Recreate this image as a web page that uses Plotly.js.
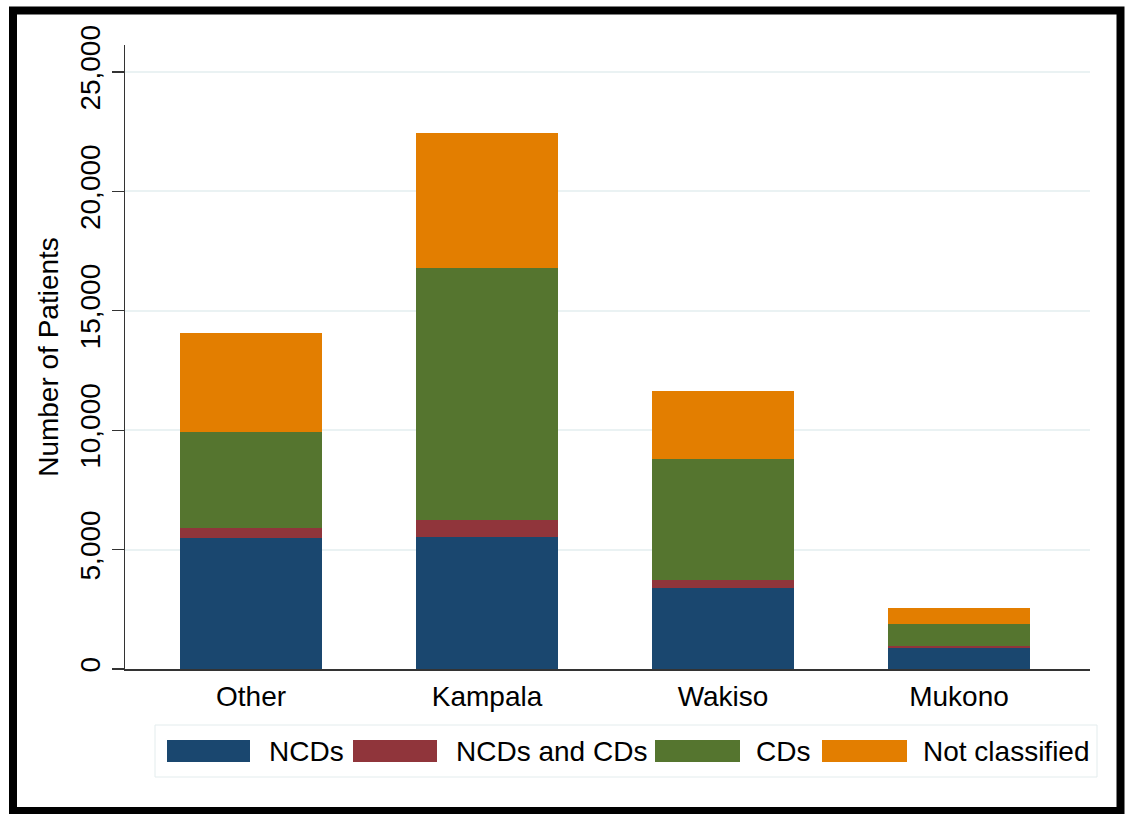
<!DOCTYPE html>
<html>
<head>
<meta charset="utf-8">
<script src="https://cdn.plot.ly/plotly-3.0.1.min.js"></script>
<style>html,body{margin:0;padding:0;background:#fff;}#chart{width:1128px;height:814px;}</style>
</head>
<body>
<div id="chart"></div>
<script>
const categories = ["Other", "Kampala", "Wakiso", "Mukono"];
const seriesNames = ["NCDs", "NCDs and CDs", "CDs", "Not classified"];
const ncds = [5490, 5530, 3390, 870];
const ncdsAndCds = [410, 710, 340, 110];
const cds = [4020, 10550, 5060, 900];
const notClassified = [4150, 5660, 2850, 660];
const yTickVals = [0, 5000, 10000, 15000, 20000, 25000];
const colors = ["#1a476f", "#90353b", "#55752f", "#e37e00"];

const W = 1128, H = 814;
const M = {l: 125, r: 38, t: 45, b: 145};
const PW = W - M.l - M.r, PH = H - M.t - M.b;
const px = x => (x - M.l) / PW;
const py = y => (H - M.b - y) / PH;

const values = [ncds, ncdsAndCds, cds, notClassified];
const traces = values.map((v, i) => ({
  type: "bar",
  name: seriesNames[i],
  x: categories,
  y: v,
  marker: {color: colors[i], line: {width: 0}},
  showlegend: false,
  hoverinfo: "x+y+name"
}));

const font = {family: "Liberation Sans, Arial, sans-serif", color: "#000"};

// legend layout (custom wide swatches like the original)
const legSw = [[167, 250], [353, 437], [655, 740], [822, 907]];
const legTx = [267, 454, 754, 921];
const shapes = [
  {type: "rect", xref: "paper", yref: "paper", x0: px(155), x1: px(1097), y0: py(777), y1: py(725),
   line: {color: "#e3eced", width: 1}, fillcolor: "rgba(0,0,0,0)"},
  {type: "rect", xref: "paper", yref: "paper", x0: px(13), x1: px(1120.5), y0: py(811), y1: py(10.5),
   line: {color: "#000", width: 8}, fillcolor: "rgba(0,0,0,0)", layer: "above"}
];
const annotations = [];
seriesNames.forEach((n, i) => {
  shapes.push({type: "rect", xref: "paper", yref: "paper", x0: px(legSw[i][0]), x1: px(legSw[i][1]),
    y0: py(762), y1: py(740), line: {width: 0}, fillcolor: colors[i]});
  annotations.push({xref: "paper", yref: "paper", x: px(legTx[i]), y: py(751), xanchor: "left", yanchor: "middle",
    text: n, showarrow: false, font: Object.assign({size: 28}, font)});
});

const layout = {
  width: W, height: H,
  margin: M,
  paper_bgcolor: "#fff", plot_bgcolor: "#fff",
  barmode: "stack",
  bargap: 0.4,
  showlegend: false,
  font: font,
  xaxis: {
    type: "category",
    range: [-0.534, 3.555],
    showline: true, linecolor: "#333", linewidth: 1.5,
    ticks: "", showgrid: false,
    tickfont: Object.assign({size: 28}, font),
    ticklabelstandoff: 2
  },
  yaxis: {
    range: [0, 26130],
    tickvals: yTickVals,
    tickformat: ",d",
    tickangle: -90,
    ticks: "outside", ticklen: 12, tickcolor: "#333", tickwidth: 1.2,
    showline: true, linecolor: "#333", linewidth: 1.5,
    showgrid: true, gridcolor: "#eaf2f3", gridwidth: 2,
    zeroline: false,
    tickfont: Object.assign({size: 28}, font),
    title: {text: "Number of Patients", font: Object.assign({size: 28}, font), standoff: 8}
  },
  shapes: shapes,
  annotations: annotations
};

Plotly.newPlot("chart", traces, layout, {displayModeBar: false, staticPlot: true});
</script>
</body>
</html>
